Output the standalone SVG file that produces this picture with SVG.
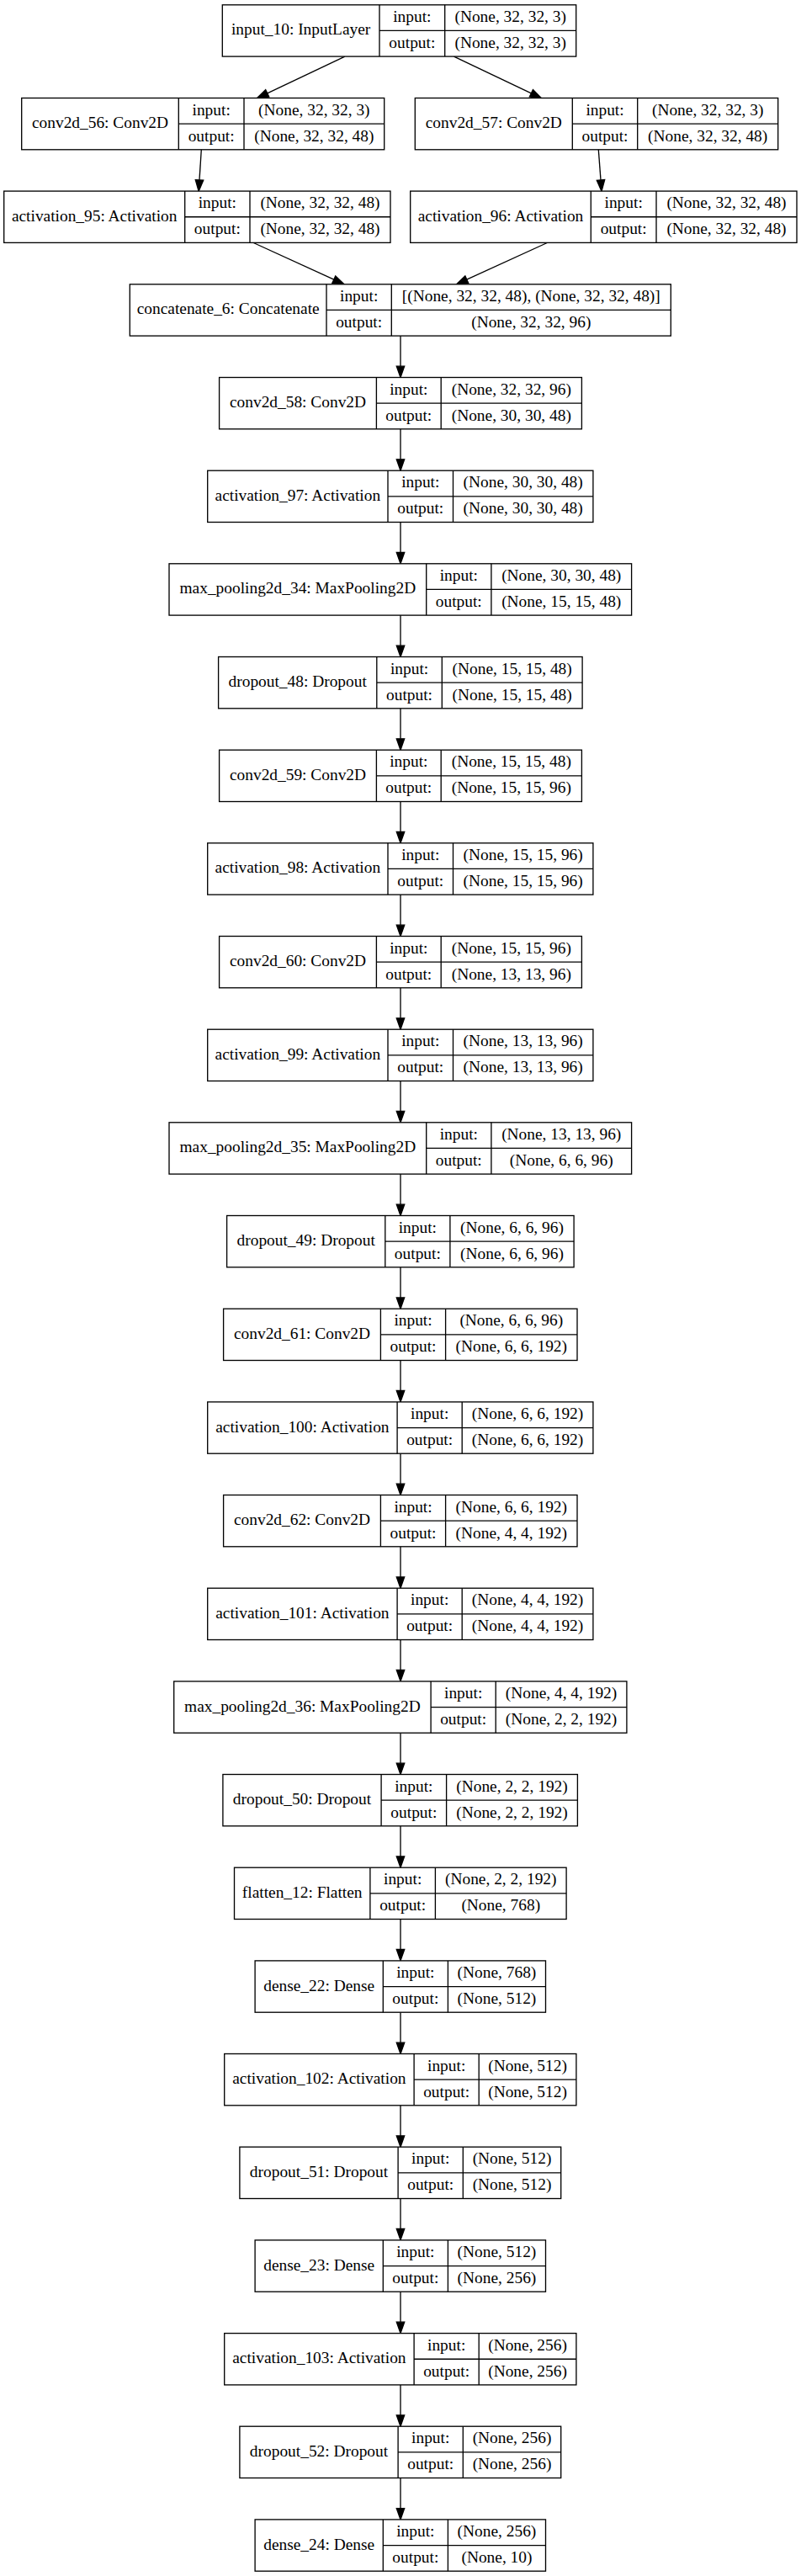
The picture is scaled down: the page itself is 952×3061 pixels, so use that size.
<svg xmlns="http://www.w3.org/2000/svg" width="952" height="3061" viewBox="0 0 952 3061">
<style>
.box{fill:#fff;stroke:#000;stroke-width:1.33}
.ln{fill:none;stroke:#000;stroke-width:1.33}
text{font-family:"Liberation Serif","Times New Roman",serif;font-size:19.4px;fill:#000;text-anchor:middle}
</style>
<defs>
<marker id="arr" markerUnits="userSpaceOnUse" viewBox="0 0 14 10" markerWidth="14" markerHeight="10" refX="0" refY="5" orient="auto" overflow="visible">
<path d="M0,0.3 L13.33,5 L0,9.7 Z" fill="#000" stroke="#000" stroke-width="1.33"/>
</marker>
</defs>
<rect width="952" height="3061" fill="#fff"/>
<g id="edges" class="ln" marker-end="url(#arr)">
<path d="M409.9,67.1 L317.7,110.8"/>
<path d="M539.5,67.1 L631.4,110.8"/>
<path d="M239.3,177.8 L237,213.9"/>
<path d="M711.3,177.8 L714,213.9"/>
<path d="M301.3,288.5 L396.8,332.2"/>
<path d="M650.3,288.5 L554.8,332.2"/>
<path d="M476,399.1 V435.15"/>
<path d="M476,509.8 V545.8"/>
<path d="M476,620.5 V656.5"/>
<path d="M476,731.1 V767.2"/>
<path d="M476,841.8 V877.8"/>
<path d="M476,952.5 V988.5"/>
<path d="M476,1063.1 V1099.2"/>
<path d="M476,1173.8 V1209.8"/>
<path d="M476,1284.5 V1320.5"/>
<path d="M476,1395.1 V1431.2"/>
<path d="M476,1505.8 V1541.9"/>
<path d="M476,1616.5 V1652.5"/>
<path d="M476,1727.2 V1763.2"/>
<path d="M476,1837.8 V1873.9"/>
<path d="M476,1948.5 V1984.5"/>
<path d="M476,2059.2 V2095.2"/>
<path d="M476,2169.8 V2205.9"/>
<path d="M476,2280.5 V2316.5"/>
<path d="M476,2391.2 V2427.2"/>
<path d="M476,2501.8 V2537.9"/>
<path d="M476,2612.5 V2648.5"/>
<path d="M476,2723.2 V2759.2"/>
<path d="M476,2833.9 V2869.9"/>
<path d="M476,2944.5 V2980.6"/>
</g>

<g id="input_10" transform="translate(0,5.8)">
<rect class="box" x="264.3" y="0" width="420.4" height="61.3"/>
<path class="ln" d="M451,0V61.3M528.7,0V61.3M451,30.65H684.7"/>
<text x="357.65" y="35.7">input_10: InputLayer</text>
<text x="489.85" y="20.3">input:</text><text x="489.85" y="51">output:</text>
<text x="606.7" y="20.3">(None, 32, 32, 3)</text><text x="606.7" y="51">(None, 32, 32, 3)</text>
</g>

<g id="conv2d_56" transform="translate(0,116.5)">
<rect class="box" x="25.7" y="0" width="431" height="61.3"/>
<path class="ln" d="M212.3,0V61.3M290,0V61.3M212.3,30.65H456.7"/>
<text x="119" y="35.7">conv2d_56: Conv2D</text>
<text x="251.15" y="20.3">input:</text><text x="251.15" y="51">output:</text>
<text x="373.35" y="20.3">(None, 32, 32, 3)</text><text x="373.35" y="51">(None, 32, 32, 48)</text>
</g>

<g id="conv2d_57" transform="translate(0,116.5)">
<rect class="box" x="493.3" y="0" width="431.4" height="61.3"/>
<path class="ln" d="M680.3,0V61.3M757.7,0V61.3M680.3,30.65H924.7"/>
<text x="586.8" y="35.7">conv2d_57: Conv2D</text>
<text x="719" y="20.3">input:</text><text x="719" y="51">output:</text>
<text x="841.2" y="20.3">(None, 32, 32, 3)</text><text x="841.2" y="51">(None, 32, 32, 48)</text>
</g>

<g id="activation_95" transform="translate(0,227.1)">
<rect class="box" x="4.7" y="0" width="459.3" height="61.3"/>
<path class="ln" d="M219.7,0V61.3M297,0V61.3M219.7,30.65H464"/>
<text x="112.2" y="35.7">activation_95: Activation</text>
<text x="258.35" y="20.3">input:</text><text x="258.35" y="51">output:</text>
<text x="380.5" y="20.3">(None, 32, 32, 48)</text><text x="380.5" y="51">(None, 32, 32, 48)</text>
</g>

<g id="activation_96" transform="translate(0,227.1)">
<rect class="box" x="487.7" y="0" width="459.3" height="61.3"/>
<path class="ln" d="M702.3,0V61.3M780,0V61.3M702.3,30.65H947"/>
<text x="595" y="35.7">activation_96: Activation</text>
<text x="741.15" y="20.3">input:</text><text x="741.15" y="51">output:</text>
<text x="863.5" y="20.3">(None, 32, 32, 48)</text><text x="863.5" y="51">(None, 32, 32, 48)</text>
</g>

<g id="concatenate_6" transform="translate(0,337.8)">
<rect class="box" x="154.3" y="0" width="643" height="61.3"/>
<path class="ln" d="M388,0V61.3M465.3,0V61.3M388,30.65H797.3"/>
<text x="271.15" y="35.7">concatenate_6: Concatenate</text>
<text x="426.65" y="20.3">input:</text><text x="426.65" y="51">output:</text>
<text x="631.3" y="20.3">[(None, 32, 32, 48), (None, 32, 32, 48)]</text><text x="631.3" y="51">(None, 32, 32, 96)</text>
</g>

<g id="conv2d_58" transform="translate(0,448.5)">
<rect class="box" x="260.6" y="0" width="430.8" height="61.3"/>
<path class="ln" d="M447.4,0V61.3M524.2,0V61.3M447.4,30.65H691.4"/>
<text x="354" y="35.7">conv2d_58: Conv2D</text>
<text x="485.8" y="20.3">input:</text><text x="485.8" y="51">output:</text>
<text x="607.8" y="20.3">(None, 32, 32, 96)</text><text x="607.8" y="51">(None, 30, 30, 48)</text>
</g>

<g id="activation_97" transform="translate(0,559.2)">
<rect class="box" x="246.7" y="0" width="458.2" height="61.3"/>
<path class="ln" d="M461,0V61.3M538.5,0V61.3M461,30.65H704.9"/>
<text x="353.85" y="35.7">activation_97: Activation</text>
<text x="499.75" y="20.3">input:</text><text x="499.75" y="51">output:</text>
<text x="621.7" y="20.3">(None, 30, 30, 48)</text><text x="621.7" y="51">(None, 30, 30, 48)</text>
</g>

<g id="max_pooling2d_34" transform="translate(0,669.8)">
<rect class="box" x="201" y="0" width="549.6" height="61.3"/>
<path class="ln" d="M506.7,0V61.3M583.9,0V61.3M506.7,30.65H750.6"/>
<text x="353.85" y="35.7">max_pooling2d_34: MaxPooling2D</text>
<text x="545.3" y="20.3">input:</text><text x="545.3" y="51">output:</text>
<text x="667.25" y="20.3">(None, 30, 30, 48)</text><text x="667.25" y="51">(None, 15, 15, 48)</text>
</g>

<g id="dropout_48" transform="translate(0,780.5)">
<rect class="box" x="259.6" y="0" width="432.5" height="61.3"/>
<path class="ln" d="M447.8,0V61.3M525.3,0V61.3M447.8,30.65H692.1"/>
<text x="353.7" y="35.7">dropout_48: Dropout</text>
<text x="486.55" y="20.3">input:</text><text x="486.55" y="51">output:</text>
<text x="608.7" y="20.3">(None, 15, 15, 48)</text><text x="608.7" y="51">(None, 15, 15, 48)</text>
</g>

<g id="conv2d_59" transform="translate(0,891.2)">
<rect class="box" x="260.6" y="0" width="430.8" height="61.3"/>
<path class="ln" d="M447.4,0V61.3M524.2,0V61.3M447.4,30.65H691.4"/>
<text x="354" y="35.7">conv2d_59: Conv2D</text>
<text x="485.8" y="20.3">input:</text><text x="485.8" y="51">output:</text>
<text x="607.8" y="20.3">(None, 15, 15, 48)</text><text x="607.8" y="51">(None, 15, 15, 96)</text>
</g>

<g id="activation_98" transform="translate(0,1001.8)">
<rect class="box" x="246.7" y="0" width="458.2" height="61.3"/>
<path class="ln" d="M461,0V61.3M538.5,0V61.3M461,30.65H704.9"/>
<text x="353.85" y="35.7">activation_98: Activation</text>
<text x="499.75" y="20.3">input:</text><text x="499.75" y="51">output:</text>
<text x="621.7" y="20.3">(None, 15, 15, 96)</text><text x="621.7" y="51">(None, 15, 15, 96)</text>
</g>

<g id="conv2d_60" transform="translate(0,1112.5)">
<rect class="box" x="260.6" y="0" width="430.8" height="61.3"/>
<path class="ln" d="M447.4,0V61.3M524.2,0V61.3M447.4,30.65H691.4"/>
<text x="354" y="35.7">conv2d_60: Conv2D</text>
<text x="485.8" y="20.3">input:</text><text x="485.8" y="51">output:</text>
<text x="607.8" y="20.3">(None, 15, 15, 96)</text><text x="607.8" y="51">(None, 13, 13, 96)</text>
</g>

<g id="activation_99" transform="translate(0,1223.2)">
<rect class="box" x="246.7" y="0" width="458.2" height="61.3"/>
<path class="ln" d="M461,0V61.3M538.5,0V61.3M461,30.65H704.9"/>
<text x="353.85" y="35.7">activation_99: Activation</text>
<text x="499.75" y="20.3">input:</text><text x="499.75" y="51">output:</text>
<text x="621.7" y="20.3">(None, 13, 13, 96)</text><text x="621.7" y="51">(None, 13, 13, 96)</text>
</g>

<g id="max_pooling2d_35" transform="translate(0,1333.8)">
<rect class="box" x="201" y="0" width="549.6" height="61.3"/>
<path class="ln" d="M506.7,0V61.3M583.9,0V61.3M506.7,30.65H750.6"/>
<text x="353.85" y="35.7">max_pooling2d_35: MaxPooling2D</text>
<text x="545.3" y="20.3">input:</text><text x="545.3" y="51">output:</text>
<text x="667.25" y="20.3">(None, 13, 13, 96)</text><text x="667.25" y="51">(None, 6, 6, 96)</text>
</g>

<g id="dropout_49" transform="translate(0,1444.5)">
<rect class="box" x="269.6" y="0" width="412.5" height="61.3"/>
<path class="ln" d="M457.8,0V61.3M534.9,0V61.3M457.8,30.65H682.1"/>
<text x="363.7" y="35.7">dropout_49: Dropout</text>
<text x="496.35" y="20.3">input:</text><text x="496.35" y="51">output:</text>
<text x="608.5" y="20.3">(None, 6, 6, 96)</text><text x="608.5" y="51">(None, 6, 6, 96)</text>
</g>

<g id="conv2d_61" transform="translate(0,1555.2)">
<rect class="box" x="265.6" y="0" width="420.4" height="61.3"/>
<path class="ln" d="M452.4,0V61.3M529.6,0V61.3M452.4,30.65H686"/>
<text x="359" y="35.7">conv2d_61: Conv2D</text>
<text x="491" y="20.3">input:</text><text x="491" y="51">output:</text>
<text x="607.8" y="20.3">(None, 6, 6, 96)</text><text x="607.8" y="51">(None, 6, 6, 192)</text>
</g>

<g id="activation_100" transform="translate(0,1665.9)">
<rect class="box" x="246.7" y="0" width="458.2" height="61.3"/>
<path class="ln" d="M472.1,0V61.3M549.2,0V61.3M472.1,30.65H704.9"/>
<text x="359.4" y="35.7">activation_100: Activation</text>
<text x="510.65" y="20.3">input:</text><text x="510.65" y="51">output:</text>
<text x="627.05" y="20.3">(None, 6, 6, 192)</text><text x="627.05" y="51">(None, 6, 6, 192)</text>
</g>

<g id="conv2d_62" transform="translate(0,1776.5)">
<rect class="box" x="265.6" y="0" width="420.4" height="61.3"/>
<path class="ln" d="M452.4,0V61.3M529.6,0V61.3M452.4,30.65H686"/>
<text x="359" y="35.7">conv2d_62: Conv2D</text>
<text x="491" y="20.3">input:</text><text x="491" y="51">output:</text>
<text x="607.8" y="20.3">(None, 6, 6, 192)</text><text x="607.8" y="51">(None, 4, 4, 192)</text>
</g>

<g id="activation_101" transform="translate(0,1887.2)">
<rect class="box" x="246.7" y="0" width="458.2" height="61.3"/>
<path class="ln" d="M472.1,0V61.3M549.2,0V61.3M472.1,30.65H704.9"/>
<text x="359.4" y="35.7">activation_101: Activation</text>
<text x="510.65" y="20.3">input:</text><text x="510.65" y="51">output:</text>
<text x="627.05" y="20.3">(None, 4, 4, 192)</text><text x="627.05" y="51">(None, 4, 4, 192)</text>
</g>

<g id="max_pooling2d_36" transform="translate(0,1997.9)">
<rect class="box" x="206.7" y="0" width="538.2" height="61.3"/>
<path class="ln" d="M512.1,0V61.3M589.2,0V61.3M512.1,30.65H744.9"/>
<text x="359.4" y="35.7">max_pooling2d_36: MaxPooling2D</text>
<text x="550.65" y="20.3">input:</text><text x="550.65" y="51">output:</text>
<text x="667.05" y="20.3">(None, 4, 4, 192)</text><text x="667.05" y="51">(None, 2, 2, 192)</text>
</g>

<g id="dropout_50" transform="translate(0,2108.5)">
<rect class="box" x="264.9" y="0" width="421.5" height="61.3"/>
<path class="ln" d="M453.1,0V61.3M530.6,0V61.3M453.1,30.65H686.4"/>
<text x="359" y="35.7">dropout_50: Dropout</text>
<text x="491.85" y="20.3">input:</text><text x="491.85" y="51">output:</text>
<text x="608.5" y="20.3">(None, 2, 2, 192)</text><text x="608.5" y="51">(None, 2, 2, 192)</text>
</g>

<g id="flatten_12" transform="translate(0,2219.2)">
<rect class="box" x="278.5" y="0" width="394.6" height="61.3"/>
<path class="ln" d="M439.9,0V61.3M517.4,0V61.3M439.9,30.65H673.1"/>
<text x="359.2" y="35.7">flatten_12: Flatten</text>
<text x="478.65" y="20.3">input:</text><text x="478.65" y="51">output:</text>
<text x="595.25" y="20.3">(None, 2, 2, 192)</text><text x="595.25" y="51">(None, 768)</text>
</g>

<g id="dense_22" transform="translate(0,2329.9)">
<rect class="box" x="303.1" y="0" width="345.4" height="61.3"/>
<path class="ln" d="M455.3,0V61.3M532.4,0V61.3M455.3,30.65H648.5"/>
<text x="379.2" y="35.7">dense_22: Dense</text>
<text x="493.85" y="20.3">input:</text><text x="493.85" y="51">output:</text>
<text x="590.45" y="20.3">(None, 768)</text><text x="590.45" y="51">(None, 512)</text>
</g>

<g id="activation_102" transform="translate(0,2440.5)">
<rect class="box" x="266.7" y="0" width="418.2" height="61.3"/>
<path class="ln" d="M492.1,0V61.3M569.2,0V61.3M492.1,30.65H684.9"/>
<text x="379.4" y="35.7">activation_102: Activation</text>
<text x="530.65" y="20.3">input:</text><text x="530.65" y="51">output:</text>
<text x="627.05" y="20.3">(None, 512)</text><text x="627.05" y="51">(None, 512)</text>
</g>

<g id="dropout_51" transform="translate(0,2551.2)">
<rect class="box" x="284.9" y="0" width="381.8" height="61.3"/>
<path class="ln" d="M473.1,0V61.3M550.3,0V61.3M473.1,30.65H666.7"/>
<text x="379" y="35.7">dropout_51: Dropout</text>
<text x="511.7" y="20.3">input:</text><text x="511.7" y="51">output:</text>
<text x="608.5" y="20.3">(None, 512)</text><text x="608.5" y="51">(None, 512)</text>
</g>

<g id="dense_23" transform="translate(0,2661.9)">
<rect class="box" x="303.1" y="0" width="345.4" height="61.3"/>
<path class="ln" d="M455.3,0V61.3M532.4,0V61.3M455.3,30.65H648.5"/>
<text x="379.2" y="35.7">dense_23: Dense</text>
<text x="493.85" y="20.3">input:</text><text x="493.85" y="51">output:</text>
<text x="590.45" y="20.3">(None, 512)</text><text x="590.45" y="51">(None, 256)</text>
</g>

<g id="activation_103" transform="translate(0,2772.6)">
<rect class="box" x="266.7" y="0" width="418.2" height="61.3"/>
<path class="ln" d="M492.1,0V61.3M569.2,0V61.3M492.1,30.65H684.9"/>
<text x="379.4" y="35.7">activation_103: Activation</text>
<text x="530.65" y="20.3">input:</text><text x="530.65" y="51">output:</text>
<text x="627.05" y="20.3">(None, 256)</text><text x="627.05" y="51">(None, 256)</text>
</g>

<g id="dropout_52" transform="translate(0,2883.2)">
<rect class="box" x="284.9" y="0" width="381.8" height="61.3"/>
<path class="ln" d="M473.1,0V61.3M550.3,0V61.3M473.1,30.65H666.7"/>
<text x="379" y="35.7">dropout_52: Dropout</text>
<text x="511.7" y="20.3">input:</text><text x="511.7" y="51">output:</text>
<text x="608.5" y="20.3">(None, 256)</text><text x="608.5" y="51">(None, 256)</text>
</g>

<g id="dense_24" transform="translate(0,2993.9)">
<rect class="box" x="303.1" y="0" width="345.4" height="61.3"/>
<path class="ln" d="M455.3,0V61.3M532.4,0V61.3M455.3,30.65H648.5"/>
<text x="379.2" y="35.7">dense_24: Dense</text>
<text x="493.85" y="20.3">input:</text><text x="493.85" y="51">output:</text>
<text x="590.45" y="20.3">(None, 256)</text><text x="590.45" y="51">(None, 10)</text>
</g>
</svg>
